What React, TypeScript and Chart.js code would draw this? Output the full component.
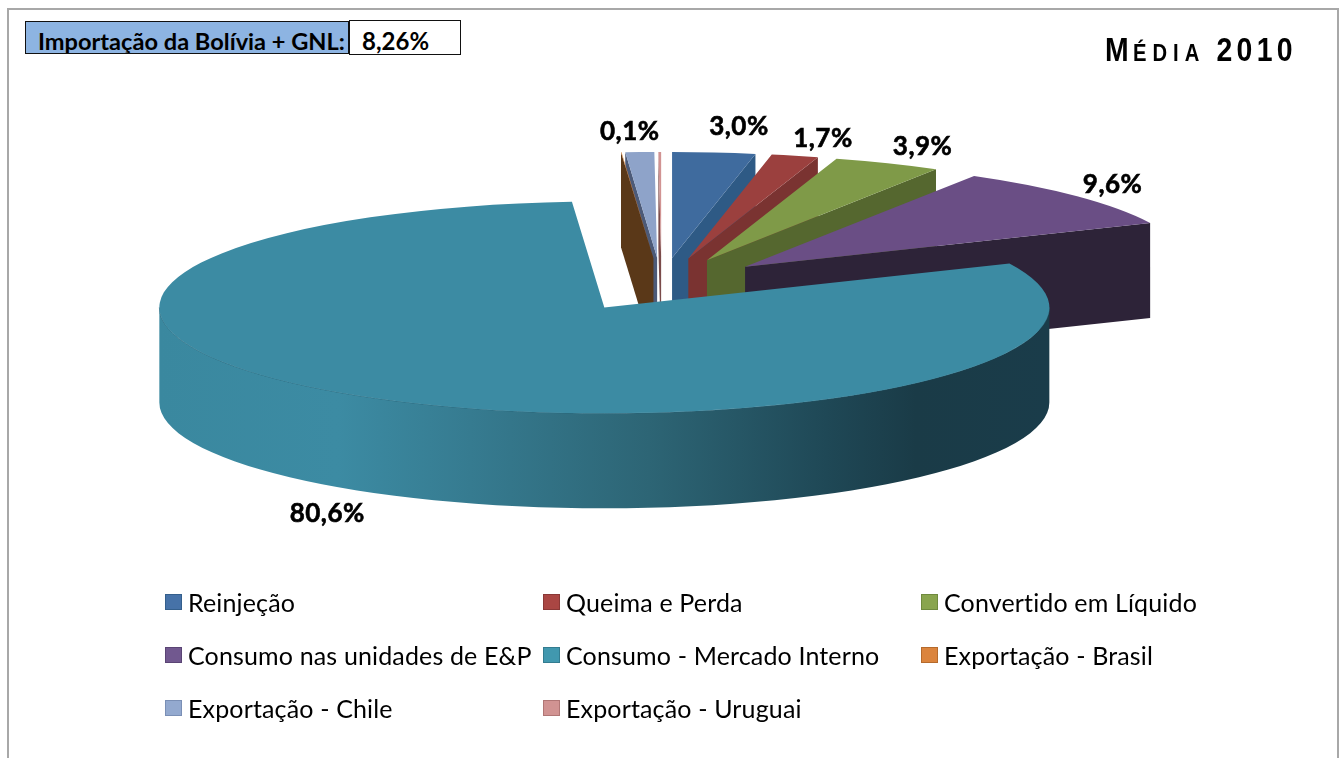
import React, { useEffect, useRef } from "react";
import { Chart, registerables } from "chart.js";

Chart.register(...registerables);

const categories = [
  "Reinjeção",
  "Queima e Perda",
  "Convertido em Líquido",
  "Consumo nas unidades de E&P",
  "Consumo - Mercado Interno",
  "Exportação - Brasil",
  "Exportação - Chile",
  "Exportação - Uruguai",
];
const shares = [3.0, 1.7, 3.9, 9.6, 80.6, 0.02, 1.04, 0.1];
const labelShown = [true, true, true, true, true, false, false, true];
const topColors = ["#3f6b9e", "#9b403e", "#7f9a48", "#6a4e85", "#3c8ba3", "#e08a41", "#8ea3c9", "#d19392"];
const wallColors = ["#2e5a85", "#7a3331", "#55672f", "#2d2338", "#1a3c4a", "#5a3818", "#4c5a78", "#7a4b4a"];
const legendColors = ["#4672a8", "#aa4643", "#89a54e", "#71588f", "#4198af", "#db843d", "#93a9cf", "#d19392"];
const legendBorders = ["#345f8c", "#8a3836", "#6f8a3e", "#5a4474", "#337c90", "#b56a2c", "#7a8fb5", "#b07675"];
const labelNudges = [[25, -25.5], [28, -17], [35, -17], [35.5, -12], [-50, 115], [0, 0], [0, 0], [-30, -20]];
const drawOrder = [7, 6, 5, 0, 1, 2, 3, 4];

const tilt = 0.238;
const depth = 95;
const explode = 112;
const pieRadius = 445;

const pie3d = {
  id: "pie3d",
  beforeDatasetsDraw(chart: any) {
    const { ctx } = chart;
    const arcs = chart.getDatasetMeta(0).data;
    const rx = pieRadius;
    drawOrder.forEach((i) => {
      const arc = arcs[i];
      const { x, y, startAngle: s, endAngle: e } = arc;
      const mid = (s + e) / 2;
      const cx = x + Math.cos(mid) * explode;
      const cy = y + Math.sin(mid) * explode * tilt;
      const px = (a: number) => cx + rx * Math.cos(a);
      const py = (a: number) => cy + rx * tilt * Math.sin(a);
      const face = (a: number) => {
        ctx.beginPath();
        ctx.moveTo(cx, cy);
        ctx.lineTo(px(a), py(a));
        ctx.lineTo(px(a), py(a) + depth);
        ctx.lineTo(cx, cy + depth);
        ctx.closePath();
        ctx.fillStyle = wallColors[i];
        ctx.fill();
      };
      if (Math.cos(s) < -1e-6) face(s);
      if (Math.cos(e) > 1e-6) face(e);
      const a0 = Math.max(s, 0);
      const a1 = Math.min(e, Math.PI);
      if (a1 > a0) {
        const g = ctx.createLinearGradient(cx - rx, 0, cx + rx, 0);
        g.addColorStop(0, "#3a889f");
        g.addColorStop(0.2, "#3c8ba3");
        g.addColorStop(0.35, "#367b90");
        g.addColorStop(0.55, "#2d6575");
        g.addColorStop(0.75, "#1f4856");
        g.addColorStop(0.85, "#1a3b47");
        g.addColorStop(1, "#1a3c4a");
        ctx.beginPath();
        ctx.ellipse(cx, cy, rx, rx * tilt, 0, a0, a1);
        ctx.ellipse(cx, cy + depth, rx, rx * tilt, 0, a1, a0, true);
        ctx.closePath();
        ctx.fillStyle = g;
        ctx.fill();
        ctx.beginPath();
        ctx.ellipse(cx, cy, rx, rx * tilt, 0, a0, a1);
        ctx.strokeStyle = "rgba(35,95,115,0.7)";
        ctx.lineWidth = 1;
        ctx.stroke();
      }
      ctx.save();
      ctx.translate(cx, cy);
      ctx.scale(1, tilt);
      ctx.translate(-x, -y);
      arc.draw(ctx);
      ctx.restore();
    });
    return false;
  },
  afterDraw(chart: any) {
    const { ctx } = chart;
    const arcs = chart.getDatasetMeta(0).data;
    ctx.save();
    ctx.font = "bold 26px Lato";
    (ctx as any).letterSpacing = "0.5px";
    ctx.fillStyle = "#000";
    ctx.strokeStyle = "#000";
    ctx.lineWidth = 0.6;
    ctx.textAlign = "center";
    ctx.textBaseline = "middle";
    arcs.forEach((arc: any, i: number) => {
      if (!labelShown[i]) return;
      const mid = (arc.startAngle + arc.endAngle) / 2;
      const r = pieRadius + explode;
      const lx = arc.x + Math.cos(mid) * r + labelNudges[i][0];
      const ly = arc.y + Math.sin(mid) * r * tilt + labelNudges[i][1];
      const text = shares[i].toFixed(1).replace(".", ",") + "%";
      ctx.fillText(text, lx, ly);
      ctx.strokeText(text, lx, ly);
    });
    ctx.restore();
  },
};

export default function App() {
  const ref = useRef<HTMLCanvasElement | null>(null);
  useEffect(() => {
    const chart = new Chart(ref.current as HTMLCanvasElement, {
      type: "pie",
      data: {
        labels: categories,
        datasets: [
          {
            data: shares,
            backgroundColor: topColors,
            borderWidth: 0,
            radius: pieRadius,
            clip: false,
          } as any,
        ],
      },
      options: {
        responsive: false,
        animation: false,
        events: [],
        layout: { padding: { left: 0, right: 17, top: 0, bottom: 189 } },
        plugins: { legend: { display: false }, tooltip: { enabled: false } },
      },
      plugins: [pie3d],
    } as any);
    return () => chart.destroy();
  }, []);

  const legendCols = [165, 543, 921];
  const legendRows = [602, 655, 708];
  return (
    <div style={{ position: "fixed", left: 0, top: 0, width: 1340, height: 758, background: "#fff", overflow: "hidden" }}>
      <canvas ref={ref} width={1340} height={758} style={{ position: "absolute", left: 0, top: 0, display: "block" }} />
      <div style={{ position: "absolute", left: 7, top: 8, width: 1332, height: 760, borderLeft: "2px solid #a8a8a8", borderTop: "2px solid #a8a8a8", borderRight: "2px solid #a8a8a8", boxSizing: "border-box" }} />
      <div style={{ position: "absolute", left: 25, top: 21, width: 324, height: 33, boxSizing: "border-box", background: "#8db4e2", border: "1px solid #111", font: "bold 23.6px Lato", lineHeight: "38px", paddingLeft: 12, whiteSpace: "nowrap", color: "#000", overflow: "hidden" }}>
        Importação da Bolívia + GNL:
      </div>
      <div style={{ position: "absolute", left: 349, top: 20, width: 112, height: 35, boxSizing: "border-box", background: "#fff", border: "1px solid #111", font: "bold 24px Lato", lineHeight: "40px", paddingLeft: 12, color: "#000" }}>
        8,26%
      </div>
      <div style={{ position: "absolute", left: 1105, top: 30, fontFamily: "'Liberation Sans'", fontWeight: 700, whiteSpace: "nowrap", color: "#000", lineHeight: "40px", transform: "scaleX(0.86)", transformOrigin: "left center" }}>
        <span style={{ fontSize: 33, letterSpacing: 5 }}>M</span>
        <span style={{ fontSize: 23.5, letterSpacing: 7 }}>ÉDIA</span>
        <span style={{ fontSize: 33, letterSpacing: 5, marginLeft: 13 }}>2010</span>
      </div>
      {categories.map((c, i) => (
        <div key={c} style={{ position: "absolute", left: legendCols[i % 3], top: legendRows[Math.floor(i / 3)] - 20, height: 40, display: "flex", alignItems: "center", whiteSpace: "nowrap" }}>
          <span style={{ width: 15, height: 14, boxSizing: "content-box", background: legendColors[i], border: `1px solid ${legendBorders[i]}`, marginRight: 6 }} />
          <span style={{ font: "25px Lato", letterSpacing: 0.15, color: "#000" }}>{c}</span>
        </div>
      ))}
    </div>
  );
}
